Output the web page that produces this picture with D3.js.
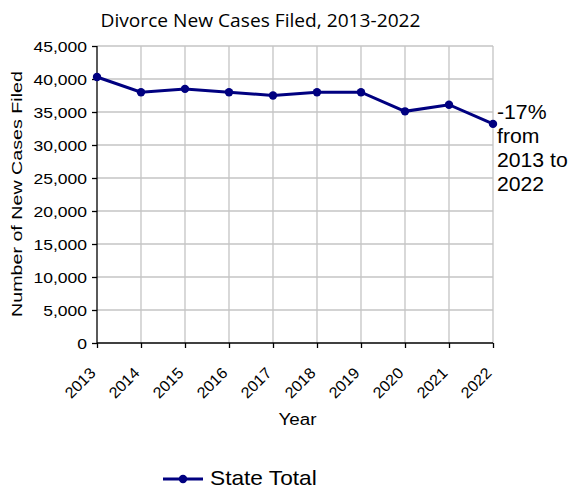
<!DOCTYPE html>
<html><head><meta charset="utf-8">
<script src="https://cdn.jsdelivr.net/npm/d3@7"></script>
<style>body{margin:0;background:#fff}svg{display:block}</style>
</head><body>
<svg id="c" width="571" height="489"></svg>
<script>
const years = ["2013","2014","2015","2016","2017","2018","2019","2020","2021","2022"];
const stateTotal = [40300, 38000, 38500, 38000, 37500, 38000, 38000, 35100, 36100, 33200];
const yTicks = [0,5000,10000,15000,20000,25000,30000,35000,40000,45000];
const annotation = ["-17%","from","2013 to","2022"];

const AR = "Liberation Sans, Arial, sans-serif";
const svg = d3.select("#c");
const m = {l:97, r:493, t:46, b:343};
const x = d3.scalePoint().domain(years).range([m.l, m.r]);
const y = d3.scaleLinear().domain([0,45000]).range([m.b, m.t]);

function stretch(sel, f){
  sel.each(function(){
    const w = this.getComputedTextLength();
    this.setAttribute("textLength", (w*f).toFixed(2));
    this.setAttribute("lengthAdjust","spacingAndGlyphs");
  });
}

// grid
svg.append("g").selectAll("line").data(yTicks.slice(1)).join("line")
  .attr("x1", m.l).attr("x2", m.r).attr("y1", d=>y(d)).attr("y2", d=>y(d))
  .attr("stroke", "#c4c4c4").attr("stroke-width", 1.3);
svg.append("g").selectAll("line").data(years.slice(1)).join("line")
  .attr("x1", d=>x(d)).attr("x2", d=>x(d)).attr("y1", m.t).attr("y2", m.b)
  .attr("stroke", "#c4c4c4").attr("stroke-width", 1.3);

// axes
const yAxis = svg.append("g").attr("transform", `translate(${m.l},0)`)
  .call(d3.axisLeft(y).tickValues(yTicks).tickFormat(d3.format(",")).tickSize(5).tickPadding(5));
yAxis.select(".domain").attr("d", `M0,${m.t}V${m.b}`).attr("stroke","#000").attr("stroke-width",1.3);
yAxis.selectAll(".tick line").attr("stroke","#000").attr("stroke-width",1.3);
yAxis.selectAll("text").attr("font-family",AR).attr("font-size","15.5px").attr("fill","#000").attr("dy","0.36em");
stretch(yAxis.selectAll("text"), 1.13);

const xAxis = svg.append("g").attr("transform", `translate(0,${m.b})`)
  .call(d3.axisBottom(x).tickSize(5));
xAxis.select(".domain").attr("d", `M${m.l},0H${m.r}`).attr("stroke","#000").attr("stroke-width",1.3);
xAxis.selectAll(".tick line").attr("stroke","#000").attr("stroke-width",1.3);
xAxis.selectAll("text").attr("font-family",AR).attr("font-size","15.5px").attr("fill","#000")
  .attr("text-anchor","end").attr("x",0).attr("y",0).attr("dy","0").attr("transform","translate(-1,31) rotate(-45)");
stretch(xAxis.selectAll("text"), 1.04);

// line
svg.append("path").datum(stateTotal)
  .attr("d", d3.line().x((d,i)=>x(years[i])).y(d=>y(d)))
  .attr("fill","none").attr("stroke","#000080").attr("stroke-width",3);
svg.append("g").selectAll("circle").data(stateTotal).join("circle")
  .attr("cx",(d,i)=>x(years[i])).attr("cy",d=>y(d)).attr("r",4.2).attr("fill","#000080");

// title
const title = svg.append("text").attr("x",260.5).attr("y",27).attr("text-anchor","middle")
  .attr("font-family","Open Sans, sans-serif").attr("font-size","19px").attr("fill","#000")
  .text("Divorce New Cases Filed, 2013-2022");
title.attr("textLength",320).attr("lengthAdjust","spacingAndGlyphs");

// axis titles
svg.append("text").attr("transform","translate(22,194) rotate(-90)").attr("text-anchor","middle")
  .attr("font-family",AR).attr("font-size","15.5px").attr("fill","#000")
  .attr("textLength",246).attr("lengthAdjust","spacingAndGlyphs")
  .text("Number of New Cases Filed");
svg.append("text").attr("x",297.5).attr("y",425).attr("text-anchor","middle")
  .attr("font-family",AR).attr("font-size","16px").attr("fill","#000")
  .attr("textLength",38).attr("lengthAdjust","spacingAndGlyphs")
  .text("Year");

// annotation
const ann = svg.append("g").attr("font-family",AR).attr("font-size","20px").attr("fill","#000");
ann.selectAll("text").data(annotation).join("text")
  .attr("x",497).attr("y",(d,i)=>118.5+i*24.3).text(d=>d);
stretch(ann.selectAll("text"), 1.06);

// legend
const lg = svg.append("g");
lg.append("line").attr("x1",163).attr("x2",203).attr("y1",479).attr("y2",479).attr("stroke","#000080").attr("stroke-width",3);
lg.append("circle").attr("cx",183).attr("cy",479).attr("r",4.2).attr("fill","#000080");
const lt = lg.append("text").attr("x",210).attr("y",485).attr("font-family",AR).attr("font-size","21px").attr("fill","#000").text("State Total");
stretch(lt, 1.08);
</script>
</body></html>
